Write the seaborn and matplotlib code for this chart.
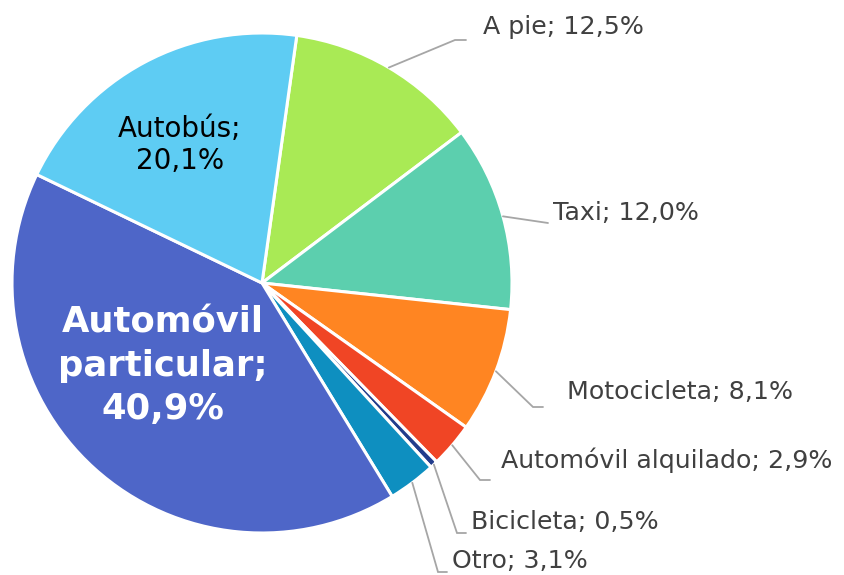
import numpy as np
import matplotlib
matplotlib.use("Agg")
import matplotlib.pyplot as plt
import seaborn as sns

# Data
categories = ["A pie", "Taxi", "Motocicleta", "Automóvil alquilado",
              "Bicicleta", "Otro", "Automóvil particular", "Autobús"]
shares = [12.5, 12.0, 8.1, 2.9, 0.5, 3.1, 40.9, 20.1]
colors = ["#A9EA55", "#5CCFAE", "#FF8522", "#F04525",
          "#223C8C", "#0E8FC0", "#4E66C8", "#5ECCF3"]

sns.set_theme(style="white")
plt.rcParams["font.family"] = ["DejaVu Sans"]

W, H = 845, 575
CX, CY, R = 262, 283, 250


def to_data(x, y):
    """Pixel position -> pie data coordinates."""
    return (x - CX) / R, (CY - y) / R


fig = plt.figure(figsize=(W / 100, H / 100), dpi=100)
ax = fig.add_axes([(CX - R) / W, (H - CY - R) / H, 2 * R / W, 2 * R / H])

wedges, _ = ax.pie(shares, colors=colors, startangle=82, counterclock=False,
                   wedgeprops=dict(edgecolor="white", linewidth=2.2))
ax.set_xlim(-1, 1)
ax.set_ylim(-1, 1)
ax.set_aspect("equal", adjustable="box")
ax.axis("off")


def fmt(name, v, sep="; "):
    return f"{name}{sep}{v:.1f}%".replace(".", ",")


# outside labels: (elbow px, end px, text left px, text center y px)
outside = {
    "A pie": ((455, 40), (466, 40), 483, 27),
    "Taxi": ((548, 223), (548, 223), 553, 213),
    "Motocicleta": ((533, 407), (543, 407), 567, 392),
    "Automóvil alquilado": ((480, 480), (490, 480), 501, 460),
    "Bicicleta": ((457, 533), (466, 533), 471, 522),
    "Otro": ((438, 572), (447, 572), 452, 561),
}

for w, name, v in zip(wedges, categories, shares):
    mid = np.deg2rad((w.theta1 + w.theta2) / 2)
    if name in outside:
        elbow, end, tx, ty = outside[name]
        start = (np.cos(mid), np.sin(mid))
        ex, ey = to_data(*elbow)
        fx, fy = to_data(*end)
        ax.plot([start[0], ex, fx], [start[1], ey, fy], color="#A6A6A6",
                lw=1.3, clip_on=False, solid_joinstyle="miter")
        x, y = to_data(tx, ty)
        ax.text(x, y, fmt(name, v), ha="left", va="center", fontsize=18.2,
                color="#404040", clip_on=False)

# inside labels
x, y = to_data(180, 145)
ax.text(x, y, fmt("Autobús", shares[7], ";\n"), ha="center", va="center",
        fontsize=20, color="black", linespacing=1.2)
x, y = to_data(163, 366)
ax.text(x, y, fmt("Automóvil\nparticular", shares[6], ";\n"), ha="center",
        va="center", fontsize=25.5, fontweight="bold", color="white",
        linespacing=1.35)

fig.savefig("out.png", dpi=100)
plt.close(fig)
